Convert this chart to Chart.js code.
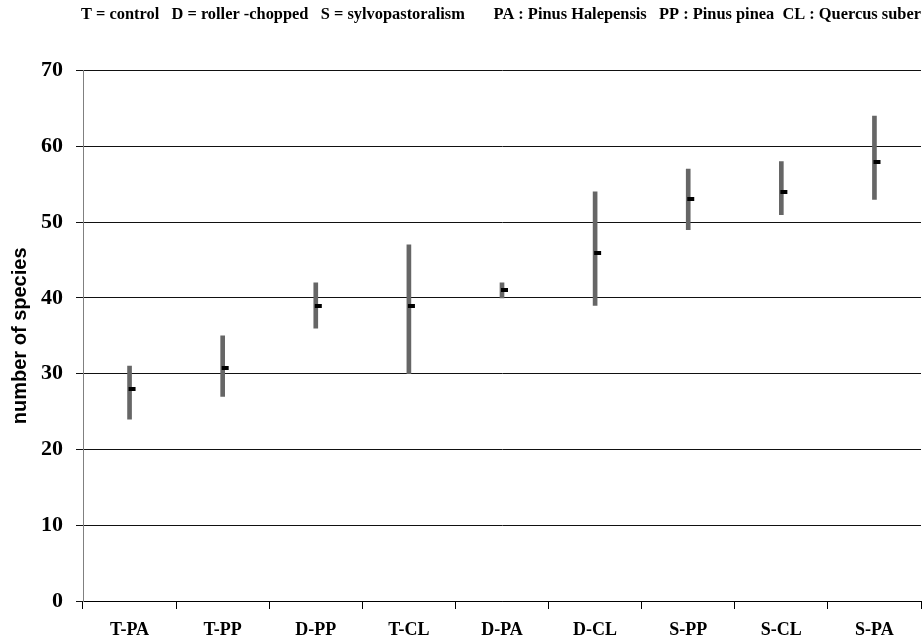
<!DOCTYPE html>
<html>
<head>
<meta charset="utf-8">
<script src="https://cdn.jsdelivr.net/npm/chart.js@4/dist/chart.umd.min.js"></script>
<style>
  html, body { margin: 0; padding: 0; background: #fff; }
  #wrap { width: 922px; height: 642px; position: relative; }
</style>
</head>
<body>
<div id="wrap"><canvas id="speciesChart"></canvas></div>
<script>
// categories (treatment - stand)
const categories = ['T-PA', 'T-PP', 'D-PP', 'T-CL', 'D-PA', 'D-CL', 'S-PP', 'S-CL', 'S-PA'];
// min / max / mean number of species
const minValues = [24, 27, 36, 30, 40, 39, 49, 51, 53];
const maxValues = [31, 35, 42, 47, 42, 54, 57, 58, 64];
const meanValues = [28, 30.8, 39, 38.9, 41, 46, 53, 54, 57.9];
const yTicks = [0, 10, 20, 30, 40, 50, 60, 70];

const titleText = 'T = control   D = roller -chopped   S = sylvopastoralism       PA : Pinus Halepensis   PP : Pinus pinea  CL : Quercus suber';

// petit trait noir pour la moyenne, décalé à droite de la barre
function meanMark() {
    const c = document.createElement('canvas');
    c.width = 16;
    c.height = 4;
    const ctx = c.getContext('2d');
    ctx.fillStyle = '#000';
    ctx.fillRect(7, 0, 7, 4);
    return c;
}

const ranges = minValues.map((v, i) => [v, maxValues[i]]);

new Chart(document.getElementById('speciesChart'), {
    data: {
        labels: categories,
        datasets: [{
            type: 'line',
            label: 'mean',
            data: meanValues,
            showLine: false,
            pointStyle: meanMark(),
            pointRadius: 3,
            order: 0
        }, {
            type: 'bar',
            label: 'range',
            data: ranges,
            backgroundColor: '#666666',
            barThickness: 4,
            order: 1
        }]
    },
    options: {
        responsive: true,
        maintainAspectRatio: false,
        animation: false,
        layout: { autoPadding: false, padding: { left: 0, right: 1, top: 0, bottom: 0 } },
        plugins: {
            legend: { display: false },
            tooltip: { enabled: false },
            title: {
                display: true,
                text: titleText,
                align: 'end',
                color: '#000',
                font: { family: 'Liberation Serif', size: 16.4, weight: 'bold' },
                padding: { top: 5, bottom: 46 }
            }
        },
        scales: {
            x: {
                grid: {
                    offset: true,
                    drawOnChartArea: false,
                    drawTicks: true,
                    tickLength: 8,
                    color: '#000'
                },
                border: { color: '#000', width: 1 },
                ticks: {
                    color: '#000',
                    padding: 11,
                    maxRotation: 0,
                    font: { family: 'Liberation Serif', size: 18, weight: 'bold' }
                },
                afterFit: scale => {
                    scale.height = 41;
                    scale.paddingLeft = 0;
                    scale.paddingRight = 0;
                }
            },
            y: {
                min: 0,
                max: 70,
                afterBuildTicks: scale => { scale.ticks = yTicks.map(v => ({ value: v })); },
                grid: {
                    color: '#111',
                    tickLength: 7
                },
                border: { color: '#808080', width: 1 },
                ticks: {
                    color: '#000',
                    padding: 13,
                    font: { family: 'Liberation Serif', size: 22, weight: 'bold' }
                },
                title: {
                    display: true,
                    text: 'number of species',
                    color: '#000',
                    font: { family: 'Liberation Sans', size: 20, weight: 'bold' },
                    padding: { top: 8, bottom: 0 }
                },
                afterFit: scale => { scale.width = 83; }
            }
        }
    }
});
</script>
</body>
</html>
